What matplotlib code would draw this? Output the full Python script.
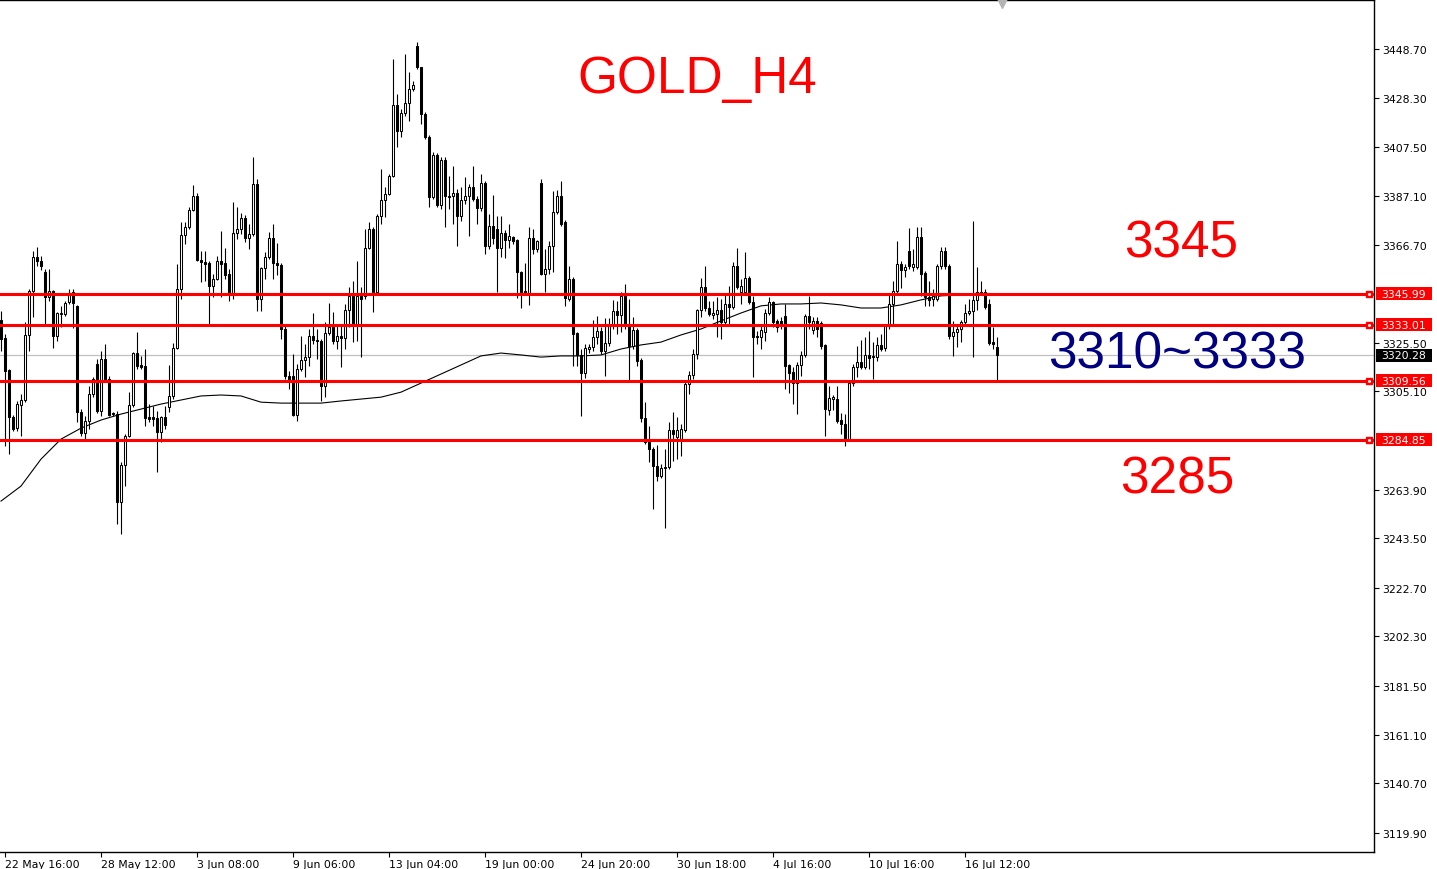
import matplotlib
matplotlib.use("Agg")
import matplotlib.pyplot as plt
import matplotlib.transforms as mtransforms
from matplotlib.patches import Rectangle
import numpy as np

# ---------------- data ----------------
opens = [
 3335.1, 3327.5, 3314.1, 3294.3, 3289.7, 3299.4, 3301.5, 3328.8, 3347.3, 3361.5,
 3359.9, 3355.2, 3344.7, 3347.3, 3328.4, 3337.6, 3337.6, 3342.6, 3346.8, 3341.0,
 3296.4, 3287.6, 3292.7, 3304.0, 3316.6, 3296.9, 3318.7, 3310.3, 3296.0, 3295.6,
 3258.6, 3274.2, 3286.4, 3299.4, 3321.2, 3316.2, 3315.8, 3294.3, 3294.3, 3293.9,
 3288.0, 3294.3, 3298.5, 3303.2, 3323.3, 3348.1, 3370.8, 3374.1, 3381.3, 3387.2,
 3360.3, 3359.5, 3359.0, 3349.4, 3352.3, 3359.9, 3359.0, 3354.4, 3346.0, 3371.6,
 3373.3, 3377.9, 3369.5, 3371.2, 3392.2, 3343.9, 3356.9, 3361.5, 3369.5, 3359.0,
 3358.2, 3331.3, 3311.6, 3311.6, 3295.2, 3314.5, 3318.3, 3319.5, 3328.4, 3326.7,
 3326.3, 3307.4, 3329.6, 3332.2, 3326.3, 3328.4, 3327.5, 3339.3, 3345.2, 3332.6,
 3345.2, 3345.2, 3365.3, 3373.3, 3346.8, 3378.8, 3385.5, 3388.0, 3395.6, 3425.4,
 3414.5, 3422.0, 3426.2, 3432.1, 3450.2, 3441.3, 3421.6, 3411.9, 3386.7, 3404.4,
 3383.4, 3402.3, 3387.2, 3387.2, 3388.4, 3378.8, 3385.5, 3387.2, 3390.9, 3385.9,
 3382.1, 3392.6, 3366.2, 3374.6, 3373.3, 3365.3, 3371.6, 3368.7, 3369.9, 3368.7,
 3355.2, 3347.3, 3346.4, 3369.5, 3364.9, 3392.6, 3354.4, 3356.5, 3366.2, 3380.4,
 3387.2, 3376.2, 3343.9, 3352.3, 3329.6, 3320.4, 3312.8, 3322.9, 3323.7, 3327.9,
 3330.5, 3322.1, 3325.4, 3332.6, 3338.9, 3337.2, 3345.2, 3332.6, 3324.2, 3330.9,
 3318.3, 3293.9, 3283.8, 3280.9, 3273.8, 3269.6, 3272.9, 3273.3, 3288.9, 3285.9,
 3285.1, 3288.9, 3308.2, 3312.0, 3320.8, 3339.3, 3348.9, 3340.1, 3337.2, 3337.6,
 3339.3, 3334.3, 3341.8, 3340.5, 3357.8, 3346.8, 3346.8, 3352.7, 3342.6, 3328.4,
 3327.9, 3330.0, 3338.0, 3342.6, 3334.7, 3334.7, 3336.8, 3316.2, 3313.2, 3308.6,
 3316.2, 3320.4, 3336.8, 3330.9, 3334.7, 3333.8, 3324.6, 3297.3, 3301.9, 3301.9,
 3293.1, 3291.4, 3285.1, 3308.6, 3315.3, 3317.4, 3315.3, 3320.4, 3320.0, 3319.5,
 3324.6, 3323.3, 3332.6, 3341.8, 3347.3, 3358.6, 3356.1, 3364.1, 3357.3, 3357.3,
 3369.9, 3354.8, 3344.7, 3343.9, 3343.9, 3357.8, 3364.1, 3357.8, 3328.4, 3330.0,
 3331.3, 3334.3, 3338.0, 3338.9, 3343.5, 3346.8, 3346.8, 3341.8, 3325.9, 3323.7]

closes = [
 3327.1, 3313.7, 3294.3, 3289.3, 3299.8, 3301.5, 3328.8, 3347.3, 3361.5, 3359.9,
 3357.8, 3344.7, 3347.3, 3328.4, 3338.0, 3338.0, 3342.2, 3345.6, 3342.2, 3296.4,
 3287.6, 3292.7, 3304.0, 3310.3, 3296.9, 3318.7, 3310.3, 3295.2, 3295.6, 3258.6,
 3274.2, 3286.4, 3299.4, 3321.2, 3315.8, 3315.3, 3293.9, 3293.5, 3293.5, 3288.0,
 3294.3, 3291.0, 3303.2, 3323.3, 3348.1, 3370.8, 3374.1, 3381.3, 3387.2, 3360.3,
 3359.5, 3358.6, 3349.4, 3352.3, 3359.9, 3358.6, 3354.0, 3346.0, 3371.6, 3373.3,
 3377.9, 3369.5, 3371.2, 3392.2, 3343.9, 3356.9, 3361.5, 3369.5, 3359.0, 3358.2,
 3331.3, 3311.6, 3310.3, 3295.2, 3314.5, 3318.3, 3319.5, 3328.4, 3326.7, 3326.3,
 3307.4, 3329.6, 3332.2, 3326.3, 3328.4, 3327.5, 3339.3, 3345.2, 3332.6, 3345.2,
 3343.9, 3365.3, 3373.3, 3346.8, 3378.8, 3385.5, 3388.0, 3395.6, 3425.4, 3414.5,
 3422.0, 3426.2, 3432.1, 3433.8, 3441.3, 3421.6, 3411.9, 3386.7, 3404.4, 3383.4,
 3402.3, 3387.2, 3386.7, 3388.4, 3378.8, 3385.5, 3387.2, 3390.9, 3385.9, 3382.1,
 3392.6, 3366.2, 3374.6, 3369.5, 3365.3, 3371.6, 3368.7, 3370.4, 3368.3, 3355.2,
 3346.8, 3346.4, 3369.5, 3364.9, 3368.3, 3354.4, 3356.5, 3366.2, 3380.4, 3387.2,
 3375.4, 3344.3, 3352.3, 3329.2, 3320.4, 3312.8, 3323.3, 3323.7, 3327.9, 3330.5,
 3322.1, 3325.4, 3332.6, 3338.9, 3337.2, 3345.2, 3332.6, 3324.2, 3330.9, 3317.9,
 3293.9, 3283.8, 3280.9, 3273.8, 3269.6, 3272.9, 3273.3, 3288.9, 3287.2, 3288.9,
 3289.3, 3308.2, 3312.0, 3320.8, 3339.3, 3348.9, 3340.1, 3337.6, 3338.0, 3339.3,
 3334.3, 3341.8, 3340.5, 3357.8, 3348.9, 3349.4, 3352.7, 3342.6, 3327.9, 3327.9,
 3330.9, 3338.0, 3342.6, 3334.3, 3332.2, 3333.0, 3315.8, 3312.8, 3308.6, 3316.2,
 3320.4, 3336.8, 3334.3, 3334.7, 3331.3, 3324.2, 3297.7, 3302.3, 3302.7, 3292.7,
 3291.4, 3285.1, 3308.6, 3315.3, 3317.4, 3315.3, 3320.4, 3319.1, 3319.5, 3324.6,
 3322.9, 3332.6, 3341.8, 3347.3, 3358.6, 3356.1, 3357.3, 3357.8, 3358.6, 3369.9,
 3354.4, 3344.7, 3343.5, 3345.2, 3357.8, 3364.1, 3357.8, 3328.4, 3330.0, 3331.3,
 3334.3, 3338.0, 3338.9, 3343.5, 3346.8, 3346.4, 3340.5, 3325.4, 3325.0, 3320.28]

highs = [
 3338.9, 3329.2, 3314.5, 3295.2, 3301.1, 3304.0, 3334.3, 3348.1, 3364.1, 3365.7,
 3362.0, 3356.5, 3356.5, 3347.7, 3338.4, 3341.0, 3343.0, 3348.1, 3348.1, 3341.4,
 3297.7, 3294.8, 3307.4, 3311.1, 3318.7, 3322.1, 3325.0, 3311.6, 3296.4, 3296.9,
 3275.4, 3287.2, 3304.8, 3321.6, 3330.0, 3320.0, 3322.9, 3299.8, 3299.0, 3296.9,
 3294.8, 3299.0, 3316.2, 3325.4, 3358.6, 3376.2, 3376.2, 3382.5, 3391.8, 3388.4,
 3364.1, 3364.1, 3359.9, 3354.4, 3362.0, 3372.5, 3365.3, 3356.5, 3384.6, 3382.5,
 3380.0, 3379.2, 3375.4, 3403.5, 3394.3, 3357.3, 3363.6, 3372.0, 3375.4, 3367.4,
 3359.0, 3333.0, 3313.7, 3320.8, 3316.6, 3328.4, 3325.0, 3331.3, 3338.0, 3331.3,
 3327.1, 3334.3, 3342.2, 3338.4, 3333.4, 3333.4, 3341.8, 3348.9, 3351.5, 3359.9,
 3348.9, 3373.3, 3376.2, 3374.1, 3379.6, 3398.5, 3390.9, 3396.4, 3444.7, 3430.0,
 3423.7, 3446.8, 3439.2, 3435.5, 3451.8, 3441.3, 3422.4, 3412.8, 3405.6, 3405.2,
 3403.5, 3403.5, 3395.6, 3399.8, 3390.1, 3390.9, 3395.1, 3392.2, 3399.8, 3387.2,
 3396.4, 3393.5, 3379.6, 3387.6, 3378.8, 3378.8, 3372.9, 3375.4, 3370.4, 3369.1,
 3355.7, 3359.0, 3374.1, 3373.3, 3368.7, 3394.3, 3364.9, 3368.3, 3389.3, 3389.7,
 3393.5, 3377.1, 3357.8, 3353.1, 3330.0, 3322.9, 3325.0, 3325.0, 3335.1, 3336.8,
 3332.1, 3335.9, 3335.9, 3343.5, 3343.0, 3346.8, 3350.2, 3343.9, 3336.3, 3331.7,
 3319.1, 3300.6, 3290.6, 3281.7, 3282.6, 3274.6, 3280.9, 3292.3, 3296.4, 3294.3,
 3291.4, 3309.0, 3313.7, 3322.9, 3339.7, 3352.7, 3357.8, 3343.0, 3343.0, 3344.7,
 3343.9, 3346.0, 3349.4, 3359.5, 3365.3, 3352.3, 3363.6, 3353.6, 3345.2, 3330.5,
 3333.4, 3339.7, 3344.7, 3343.0, 3335.5, 3336.3, 3341.8, 3316.6, 3315.3, 3317.4,
 3322.1, 3337.6, 3345.2, 3336.3, 3336.3, 3334.7, 3325.0, 3307.4, 3303.6, 3307.4,
 3296.0, 3295.6, 3309.0, 3316.6, 3324.2, 3326.7, 3327.9, 3330.5, 3325.9, 3327.9,
 3329.2, 3333.4, 3346.0, 3351.5, 3368.3, 3359.9, 3358.6, 3373.7, 3364.9, 3374.1,
 3374.1, 3355.7, 3351.5, 3348.1, 3358.6, 3365.7, 3365.7, 3358.6, 3334.7, 3333.0,
 3335.1, 3341.8, 3343.9, 3376.7, 3357.3, 3351.5, 3348.1, 3343.9, 3332.1, 3327.9]

lows = [
 3322.1, 3282.2, 3278.8, 3288.5, 3288.5, 3286.4, 3300.5, 3322.1, 3336.3, 3357.8,
 3356.1, 3333.4, 3343.0, 3323.3, 3326.3, 3332.2, 3336.8, 3341.8, 3331.7, 3292.3,
 3286.4, 3285.1, 3289.3, 3302.7, 3296.0, 3294.8, 3309.0, 3294.8, 3294.8, 3249.4,
 3245.2, 3265.4, 3285.9, 3298.5, 3314.5, 3314.5, 3290.6, 3292.3, 3290.6, 3271.2,
 3283.8, 3289.3, 3296.4, 3301.9, 3322.9, 3343.9, 3367.0, 3373.3, 3380.9, 3359.9,
 3351.1, 3351.5, 3333.4, 3344.7, 3351.9, 3344.7, 3352.3, 3343.0, 3343.9, 3369.1,
 3371.2, 3367.8, 3364.9, 3370.4, 3338.9, 3338.9, 3352.3, 3360.7, 3352.3, 3354.0,
 3327.1, 3310.3, 3306.1, 3294.8, 3292.7, 3313.7, 3311.1, 3315.8, 3325.0, 3318.7,
 3301.1, 3302.7, 3328.8, 3325.0, 3322.9, 3315.3, 3322.9, 3332.2, 3325.9, 3326.3,
 3319.5, 3343.9, 3364.9, 3338.4, 3346.0, 3375.4, 3378.3, 3387.6, 3395.1, 3407.7,
 3411.9, 3420.8, 3418.7, 3431.3, 3440.5, 3417.4, 3411.1, 3382.5, 3385.9, 3382.5,
 3381.7, 3374.1, 3381.7, 3375.4, 3366.2, 3376.6, 3383.8, 3370.4, 3385.1, 3375.4,
 3380.9, 3362.8, 3364.9, 3367.0, 3346.8, 3361.5, 3361.1, 3365.3, 3367.0, 3344.3,
 3340.1, 3345.6, 3341.4, 3362.8, 3363.6, 3354.0, 3346.8, 3354.4, 3355.2, 3379.6,
 3374.6, 3341.0, 3343.0, 3315.8, 3315.8, 3294.8, 3310.7, 3321.2, 3322.1, 3325.0,
 3320.8, 3311.6, 3324.2, 3331.3, 3329.2, 3330.0, 3331.3, 3309.9, 3322.9, 3315.8,
 3292.3, 3283.0, 3275.4, 3255.7, 3267.5, 3268.7, 3247.7, 3272.5, 3275.9, 3276.7,
 3278.0, 3288.0, 3304.0, 3310.3, 3318.7, 3336.3, 3338.9, 3336.8, 3335.5, 3327.9,
 3327.1, 3333.4, 3333.4, 3339.7, 3348.1, 3341.8, 3346.0, 3341.8, 3311.1, 3325.0,
 3322.9, 3326.3, 3337.2, 3332.2, 3330.0, 3331.3, 3306.1, 3304.4, 3299.8, 3295.6,
 3311.6, 3319.5, 3331.3, 3329.2, 3327.9, 3322.9, 3286.4, 3295.2, 3297.3, 3291.8,
 3287.2, 3282.2, 3284.3, 3307.4, 3311.1, 3314.5, 3314.5, 3314.5, 3310.3, 3317.9,
 3322.1, 3322.1, 3331.3, 3333.4, 3346.0, 3348.5, 3353.1, 3356.5, 3355.7, 3356.5,
 3345.2, 3341.0, 3341.0, 3341.0, 3343.0, 3356.5, 3356.5, 3327.1, 3320.0, 3323.7,
 3325.9, 3333.0, 3337.2, 3319.5, 3339.3, 3345.6, 3339.7, 3324.6, 3322.9, 3309.5]

# moving average (read every 5 bars)
ma_index = list(range(0, 250, 5)) + [249]
ma_values = [
 3259.1, 3265.4, 3276.7, 3285.1, 3289.7, 3293.1, 3295.6, 3297.7, 3299.8, 3301.5,
 3303.2, 3303.6, 3303.2, 3300.6, 3300.2, 3300.2, 3300.2, 3301.1, 3301.9, 3302.7,
 3304.8, 3308.6, 3312.4, 3316.2, 3320.0, 3321.2, 3320.4, 3319.5, 3320.0, 3320.0,
 3320.4, 3322.9, 3324.6, 3325.8, 3328.8, 3331.3, 3334.7, 3338.0, 3341.0, 3341.8,
 3341.8, 3342.2, 3341.4, 3340.1, 3340.1, 3341.4, 3343.5, 3345.2, 3345.6, 3345.6,
 3345.6]

levels = [3345.99, 3333.01, 3309.56, 3284.85]
current_price = 3320.28

date_tick_index = [1, 25, 49, 73, 97, 121, 145, 169, 193, 217, 241]
date_labels = ["22 May 16:00", "28 May 12:00", "3 Jun 08:00", "9 Jun 06:00",
               "13 Jun 04:00", "19 Jun 00:00", "24 Jun 20:00", "30 Jun 18:00",
               "4 Jul 16:00", "10 Jul 16:00", "16 Jul 12:00"]
price_ticks = [3448.70, 3428.30, 3407.50, 3387.10, 3366.70, 3325.50, 3305.10,
               3263.90, 3243.50, 3222.70, 3202.30, 3181.50, 3161.10, 3140.70, 3119.90]

title_text = "GOLD_H4"
label_upper = "3345"
label_mid = "3310~3333"
label_lower = "3285"

# ---------------- figure ----------------
W, H = 1437, 870
fig = plt.figure(figsize=(W / 100, H / 100), dpi=100)
fig.patch.set_facecolor("white")
ax = fig.add_axes([0, (H - 853) / H, 1374 / W, 852 / H])
ax.set_facecolor("white")

n = len(closes)
x = np.arange(n)
o = np.array(opens)
c = np.array(closes)
hi = np.maximum(np.array(highs), np.maximum(o, c))
lo = np.minimum(np.array(lows), np.minimum(o, c))

# wicks
ax.vlines(x, lo, hi, color="black", linewidth=0.8, zorder=2)
# bodies
up = c >= o
bottom = np.minimum(o, c)
height = np.abs(c - o)
ax.bar(x, height, bottom=bottom, width=0.5,
       color=np.where(up, "white", "black"), edgecolor="black",
       linewidth=0.75, zorder=3)

# moving average
ax.plot(ma_index, ma_values, color="black", linewidth=0.8, zorder=2.5)

# current price line
ax.axhline(current_price, color="#C0C0C0", linewidth=0.9, zorder=1)

# support / resistance lines
for lv in levels:
    ax.axhline(lv, color="#FF0000", linewidth=2.2, zorder=4)
    ax.plot([341.9], [lv], marker="s", markersize=4.2, color="#FF0000", zorder=5,
            clip_on=False)
    ax.plot([341.9], [lv], marker="s", markersize=1.0, color="white", zorder=6,
            clip_on=False)

ax.set_xlim(-0.25, 343.25)
ax.set_ylim(3111.9, 3469.3)

# axes styling
ax.spines["left"].set_visible(False)
for side in ["top", "right", "bottom"]:
    ax.spines[side].set_linewidth(1.0)
    ax.spines[side].set_color("black")

ax.set_xticks(date_tick_index)
ax.set_xticklabels(date_labels, fontsize=7.8, family="DejaVu Sans")
for lab in ax.get_xticklabels():
    lab.set_horizontalalignment("left")
ax.tick_params(axis="x", direction="out", length=3.5, width=0.8, pad=1.5,
               colors="black")

ax.yaxis.tick_right()
ax.set_yticks(price_ticks)
ax.set_yticklabels([f"{p:.2f}" for p in price_ticks], fontsize=7.8,
                   family="DejaVu Sans")
ax.tick_params(axis="y", direction="out", length=3.5, width=0.8, pad=2.5,
               colors="black")

# price tags on the right axis (box 56 px wide, 13 px tall)
trans = mtransforms.blended_transform_factory(ax.transAxes, ax.transData)
px_per_price = 852 / (3469.3 - 3111.9)
tag_h = 13 / px_per_price
tag_x0 = 1376 / 1374
tag_w = 56 / 1374


def price_tag(value, face):
    ax.add_patch(Rectangle((tag_x0, value - tag_h / 2), tag_w, tag_h,
                           transform=trans, facecolor=face, edgecolor="none",
                           clip_on=False, zorder=9))
    ax.text(tag_x0 + tag_w / 2, value, f"{value:.2f}", transform=trans,
            fontsize=7.8, family="DejaVu Sans", color="white", va="center",
            ha="center", zorder=10, clip_on=False)


for lv in levels:
    price_tag(lv, "#FF0000")
price_tag(current_price, "black")

# shift marker at top
ax.plot([0.729], [0.9965], marker="v", markersize=6.5, color="#B4B4B4",
        transform=ax.transAxes, clip_on=False, zorder=10)

# annotations
big = dict(family="Liberation Sans", fontsize=37, ha="center", va="baseline",
           transform=ax.transAxes, zorder=12)
ax.text(0.5073, 0.8915, title_text, color="#FF0000", **big)
ax.text(0.8595, 0.699, label_upper, color="#FF0000", **big)
ax.text(0.8566, 0.5687, label_mid, color="#000080", **big)
ax.text(0.8566, 0.422, label_lower, color="#FF0000", **big)

fig.savefig("out.png", dpi=100, facecolor="white")
